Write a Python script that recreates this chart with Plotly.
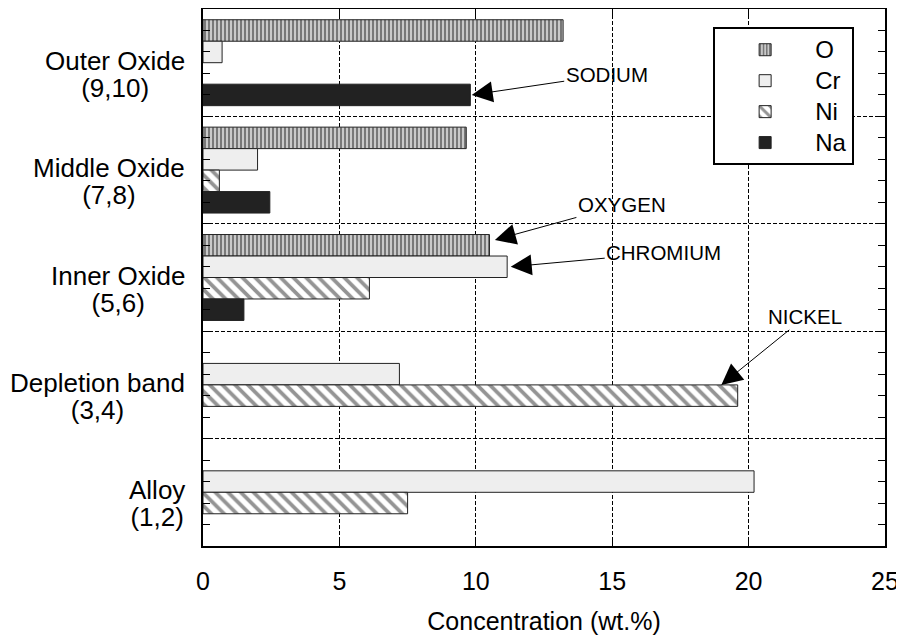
import plotly.graph_objects as go

# ---------------- data ----------------
category_names = ["Outer Oxide", "Middle Oxide", "Inner Oxide", "Depletion band", "Alloy"]
category_codes = ["(9,10)", "(7,8)", "(5,6)", "(3,4)", "(1,2)"]
series_names = ["O", "Cr", "Ni", "Na"]
o_vals = [13.2, 9.65, 10.5, None, None]
cr_vals = [0.7, 2.0, 11.15, 7.2, 20.2]
ni_vals = [None, 0.6, 6.1, 19.6, 7.5]
na_vals = [9.8, 2.45, 1.5, None, None]
x_ticks = [0, 5, 10, 15, 20, 25]

series_vals = [o_vals, cr_vals, ni_vals, na_vals]
ypos = list(range(len(category_names)))

FONT = "Liberation Sans, Arial, sans-serif"
BARGAP = 0.2
n_series = len(series_names)
bar_w = (1 - BARGAP) / n_series
slot_offsets = [-(1 - BARGAP) / 2 + bar_w * (k + 0.5) for k in range(n_series)]

styles = [
    dict(color="#d8d8d8", line=dict(color="#222", width=1),
         pattern=dict(shape="|", fgcolor="#111111", bgcolor="#dedede", size=4, solidity=0.6)),
    dict(color="#eeeeee", line=dict(color="#222", width=1)),
    dict(color="white", line=dict(color="#222", width=1),
         pattern=dict(shape="\\", fgcolor="#2a2a2a", bgcolor="white", size=9, solidity=0.42)),
    dict(color="#222222", line=dict(color="#222", width=1)),
]

fig = go.Figure()
for name, vals, st in zip(series_names, series_vals, styles):
    fig.add_trace(go.Bar(x=vals, y=ypos, orientation="h",
                         name=f'<span style="font-size:24px">{name}</span>', marker=st))

# ---------------- arrows / callouts ----------------
callouts = [
    # text, series index, category index, dx, dy(data), ax, ay (px)
    ("SODIUM", 3, 0, 0.05, 0.0, 135, -20),
    ("OXYGEN", 0, 2, 0.2, -0.05, 127, -35),
    ("CHROMIUM", 1, 2, 0.13, 0.0, 153, -14),
    ("NICKEL", 2, 3, -0.6, -bar_w / 2, 84, -68),
]
annotations = []
for text, si, ci, dx, dy, ax, ay in callouts:
    annotations.append(dict(
        x=series_vals[si][ci] + dx, y=ypos[ci] + slot_offsets[si] + dy,
        xref="x", yref="y", text=text, showarrow=True,
        arrowhead=2, arrowsize=4.2, arrowwidth=1, arrowcolor="black",
        ax=ax, ay=ay, font=dict(family=FONT, size=20.5, color="black")))

# category labels (centered two-line labels, right edge near the axis)
for yi, name, code in zip(ypos, category_names, category_codes):
    label = (f'<span style="font-size:26px">{name}</span><br>'
             f'<span style="font-size:26px">{code}</span>')
    annotations.append(dict(
        x=0, y=yi, xref="paper", yref="y", text=label, showarrow=False,
        xanchor="right", align="center", xshift=-16, yshift=-11.5,
        font=dict(family=FONT, size=21, color="black")))

slot_ticks = [y + off for y in ypos for off in slot_offsets]
boundaries = [y + 0.5 for y in ypos[:-1]]

fig.update_layout(
    width=896, height=629,
    margin=dict(l=195, r=19, t=1, b=91),
    paper_bgcolor="white", plot_bgcolor="white",
    barmode="group", bargap=BARGAP, bargroupgap=0,
    font=dict(family=FONT, color="black"),
    annotations=annotations,
    legend=dict(x=0.748, y=0.966, xanchor="left", yanchor="top",
                bordercolor="black", borderwidth=2, bgcolor="white",
                font=dict(family=FONT, size=21.5, color="black"),
                itemwidth=90, tracegroupgap=0),
    xaxis=dict(range=[0, 25], tickvals=x_ticks, ticks="inside", ticklen=8, tickwidth=1,
               tickcolor="black", showline=True, linecolor="black", linewidth=2,
               mirror="ticks", showgrid=True, gridcolor="black", gridwidth=1,
               griddash="4px,2px", zeroline=False,
               tickfont=dict(family=FONT, size=25), ticklabelstandoff=12,
               title=dict(text="Concentration (wt.%)", font=dict(family=FONT, size=25),
                          standoff=18),
               automargin=False),
    yaxis=dict(range=[ypos[-1] + 0.5, ypos[0] - 0.5], tickvals=slot_ticks,
               showticklabels=False, ticks="inside", ticklen=7, tickcolor="black",
               showline=True, linecolor="black", linewidth=2, mirror="ticks",
               showgrid=False, zeroline=False, automargin=False,
               minor=dict(tickvals=boundaries, ticks="inside", ticklen=10,
                          tickcolor="black", showgrid=True, gridcolor="black",
                          gridwidth=1, griddash="4px,2px")),
)

fig.write_html("out.html")
